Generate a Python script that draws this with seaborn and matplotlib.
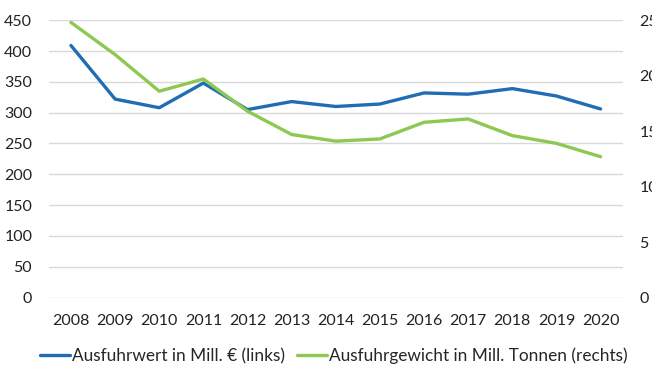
import numpy as np
import pandas as pd
import seaborn as sns
import matplotlib
matplotlib.use('Agg')
import matplotlib.pyplot as plt
from matplotlib.lines import Line2D

years = [2008, 2009, 2010, 2011, 2012, 2013, 2014, 2015, 2016, 2017, 2018, 2019, 2020]
wert = [409, 322, 308, 348, 305, 318, 310, 314, 332, 330, 339, 327, 306]
gewicht = [24.8, 21.9, 18.6, 19.7, 16.8, 14.7, 14.1, 14.3, 15.8, 16.1, 14.6, 13.9, 12.7]

left_ticks = [0, 50, 100, 150, 200, 250, 300, 350, 400, 450]
right_ticks = [0, 5, 10, 15, 20, 25]

blue = '#1f6db3'
green = '#8dc850'

sns.set_style('white')
plt.rcParams['font.family'] = ['Lato', 'DejaVu Sans']
plt.rcParams['font.size'] = 11.5

df = pd.DataFrame({'year': [str(y) for y in years], 'wert': wert, 'gewicht': gewicht})

fig = plt.figure(figsize=(6.52, 3.67), dpi=100)
ax = fig.add_axes([0.075, 0.189, 0.88, 0.756])
ax2 = ax.twinx()

sns.lineplot(data=df, x='year', y='wert', ax=ax, color=blue, lw=2.4, sort=False)
sns.lineplot(data=df, x='year', y='gewicht', ax=ax2, color=green, lw=2.4, sort=False)

ax.set_ylim(0, 450)
ax2.set_ylim(0, 25)
ax.set_yticks(left_ticks)
ax2.set_yticks(right_ticks)
ax.set_xlim(-0.5, len(years) - 0.5)

# gridlines from the left axis only
for t in left_ticks:
    ax.axhline(t, color='#d9d9d9', lw=1, zorder=0)
ax2.grid(False)

ax.set(xlabel='', ylabel='')
ax2.set(xlabel='', ylabel='')
ax.tick_params(axis='both', length=0, colors='#222222')
ax.tick_params(axis='y', pad=12)
ax.tick_params(axis='x', pad=12)
ax2.tick_params(axis='y', length=0, pad=12, colors='#222222')

for a in (ax, ax2):
    for s in a.spines.values():
        s.set_visible(False)

handles = [Line2D([], [], color=blue, lw=2.4), Line2D([], [], color=green, lw=2.4)]
labels = ['Ausfuhrwert in Mill. € (links)', 'Ausfuhrgewicht in Mill. Tonnen (rechts)']
fig.legend(handles, labels, loc='center', bbox_to_anchor=(0.512, 0.03), ncol=2,
           frameon=False, handlelength=1.75, handletextpad=0.1, columnspacing=0.7,
           fontsize=12.4)

fig.savefig('out.png', dpi=100)
